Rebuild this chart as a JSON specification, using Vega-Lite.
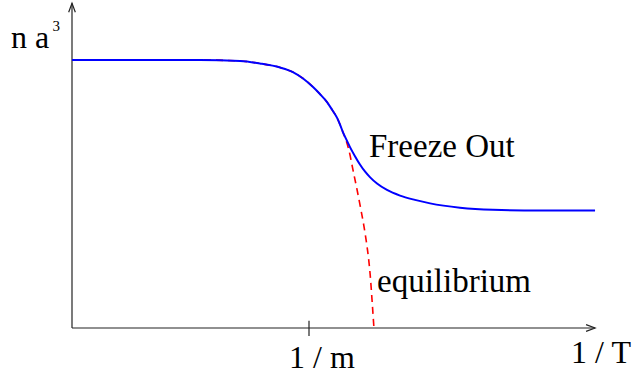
{
  "$schema": "https://vega.github.io/schema/vega-lite/v6.json",
  "width": 634,
  "height": 375,
  "autosize": {"type": "none"},
  "padding": 0,
  "background": "white",
  "config": {"view": {"stroke": null}},
  "datasets": {
    "curves": [
      {"series": "freeze", "x": 0, "y": 1},
      {"series": "freeze", "x": 0.54, "y": 1},
      {"series": "freeze", "x": 0.709, "y": 0.996},
      {"series": "freeze", "x": 0.793, "y": 0.987},
      {"series": "freeze", "x": 0.878, "y": 0.972},
      {"series": "freeze", "x": 0.932, "y": 0.955},
      {"series": "freeze", "x": 0.975, "y": 0.931},
      {"series": "freeze", "x": 1.017, "y": 0.899},
      {"series": "freeze", "x": 1.046, "y": 0.873},
      {"series": "freeze", "x": 1.076, "y": 0.843},
      {"series": "freeze", "x": 1.097, "y": 0.815},
      {"series": "freeze", "x": 1.118, "y": 0.785},
      {"series": "freeze", "x": 1.131, "y": 0.759},
      {"series": "freeze", "x": 1.143, "y": 0.731},
      {"series": "freeze", "x": 1.16, "y": 0.699},
      {"series": "freeze", "x": 1.173, "y": 0.675},
      {"series": "freeze", "x": 1.194, "y": 0.641},
      {"series": "freeze", "x": 1.215, "y": 0.610},
      {"series": "freeze", "x": 1.236, "y": 0.584},
      {"series": "freeze", "x": 1.257, "y": 0.563},
      {"series": "freeze", "x": 1.287, "y": 0.539},
      {"series": "freeze", "x": 1.329, "y": 0.515},
      {"series": "freeze", "x": 1.384, "y": 0.494},
      {"series": "freeze", "x": 1.447, "y": 0.478},
      {"series": "freeze", "x": 1.511, "y": 0.465},
      {"series": "freeze", "x": 1.637, "y": 0.449},
      {"series": "freeze", "x": 1.776, "y": 0.441},
      {"series": "freeze", "x": 1.975, "y": 0.438},
      {"series": "freeze", "x": 2.207, "y": 0.438},
      {"series": "equil", "x": 0, "y": 1},
      {"series": "equil", "x": 0.54, "y": 1},
      {"series": "equil", "x": 0.709, "y": 0.996},
      {"series": "equil", "x": 0.793, "y": 0.987},
      {"series": "equil", "x": 0.878, "y": 0.972},
      {"series": "equil", "x": 0.932, "y": 0.955},
      {"series": "equil", "x": 0.975, "y": 0.931},
      {"series": "equil", "x": 1.017, "y": 0.899},
      {"series": "equil", "x": 1.046, "y": 0.873},
      {"series": "equil", "x": 1.076, "y": 0.843},
      {"series": "equil", "x": 1.097, "y": 0.815},
      {"series": "equil", "x": 1.118, "y": 0.785},
      {"series": "equil", "x": 1.131, "y": 0.759},
      {"series": "equil", "x": 1.143, "y": 0.731},
      {"series": "equil", "x": 1.155, "y": 0.703},
      {"series": "equil", "x": 1.168, "y": 0.665},
      {"series": "equil", "x": 1.186, "y": 0.588},
      {"series": "equil", "x": 1.203, "y": 0.515},
      {"series": "equil", "x": 1.217, "y": 0.451},
      {"series": "equil", "x": 1.231, "y": 0.384},
      {"series": "equil", "x": 1.242, "y": 0.322},
      {"series": "equil", "x": 1.251, "y": 0.262},
      {"series": "equil", "x": 1.258, "y": 0.200},
      {"series": "equil", "x": 1.266, "y": 0.104},
      {"series": "equil", "x": 1.274, "y": 0}
    ],
    "axes": [
      {"x": 0, "y": 0, "x2": 2.207, "y2": 0},
      {"x": 0, "y": 0, "x2": 0, "y2": 1.2116},
      {"x": 1, "y": -0.03, "x2": 1, "y2": 0.027}
    ],
    "arrowx": [{"x": 2.207, "y": 0}],
    "arrowy": [{"x": 0, "y": 1.2116}],
    "axislabels": [
      {"x": -0.2574, "y": 1.0459, "text": "n a"},
      {"x": 0.916, "y": -0.150, "text": "1 / m"},
      {"x": 2.106, "y": -0.1306, "text": "1 / T"}
    ],
    "curvelabels": [
      {"x": 1.2532, "y": 0.639, "text": "Freeze Out"},
      {"x": 1.287, "y": 0.1354, "text": "equilibrium"}
    ],
    "sup": [{"x": -0.0823, "y": 1.108, "text": "3"}]
  },
  "layer": [
    {
      "data": {"name": "axes"},
      "mark": {"type": "rule", "color": "#222222", "strokeWidth": 1.2},
      "encoding": {
        "x": {"field": "x", "type": "quantitative", "axis": null, "scale": {"domain": [-0.3038, 2.3713], "nice": false, "zero": false}},
        "y": {"field": "y", "type": "quantitative", "axis": null, "scale": {"domain": [-0.17537, 1.22388], "nice": false, "zero": false}},
        "x2": {"field": "x2"},
        "y2": {"field": "y2"}
      }
    },
    {
      "data": {"name": "arrowx"},
      "mark": {"type": "point", "shape": "M-1,-0.37L0,0L-1,0.37", "size": 324, "filled": false, "stroke": "#222222", "strokeWidth": 1.2, "opacity": 1},
      "encoding": {
        "x": {"field": "x", "type": "quantitative"},
        "y": {"field": "y", "type": "quantitative"}
      }
    },
    {
      "data": {"name": "arrowy"},
      "mark": {"type": "point", "shape": "M-0.37,1L0,0L0.37,1", "size": 324, "filled": false, "stroke": "#222222", "strokeWidth": 1.2, "opacity": 1},
      "encoding": {
        "x": {"field": "x", "type": "quantitative"},
        "y": {"field": "y", "type": "quantitative"}
      }
    },
    {
      "data": {"name": "curves"},
      "transform": [{"filter": "datum.series === 'equil'"}],
      "mark": {"type": "line", "color": "#ff0000", "strokeWidth": 1.6, "strokeDash": [7, 5], "interpolate": "monotone"},
      "encoding": {
        "x": {"field": "x", "type": "quantitative"},
        "y": {"field": "y", "type": "quantitative"}
      }
    },
    {
      "data": {"name": "curves"},
      "transform": [{"filter": "datum.series === 'freeze'"}],
      "mark": {"type": "line", "color": "#0000ff", "strokeWidth": 2, "interpolate": "monotone"},
      "encoding": {
        "x": {"field": "x", "type": "quantitative"},
        "y": {"field": "y", "type": "quantitative"}
      }
    },
    {
      "data": {"name": "axislabels"},
      "mark": {"type": "text", "font": "'Liberation Serif', 'DejaVu Serif', serif", "fontSize": 32, "align": "left", "baseline": "alphabetic", "color": "black"},
      "encoding": {
        "x": {"field": "x", "type": "quantitative"},
        "y": {"field": "y", "type": "quantitative"},
        "text": {"field": "text"}
      }
    },
    {
      "data": {"name": "curvelabels"},
      "mark": {"type": "text", "font": "'Liberation Serif', 'DejaVu Serif', serif", "fontSize": 33, "align": "left", "baseline": "alphabetic", "color": "black"},
      "encoding": {
        "x": {"field": "x", "type": "quantitative"},
        "y": {"field": "y", "type": "quantitative"},
        "text": {"field": "text"}
      }
    },
    {
      "data": {"name": "sup"},
      "mark": {"type": "text", "font": "'Liberation Serif', 'DejaVu Serif', serif", "fontSize": 15, "align": "left", "baseline": "alphabetic", "color": "black"},
      "encoding": {
        "x": {"field": "x", "type": "quantitative"},
        "y": {"field": "y", "type": "quantitative"},
        "text": {"field": "text"}
      }
    }
  ]
}
